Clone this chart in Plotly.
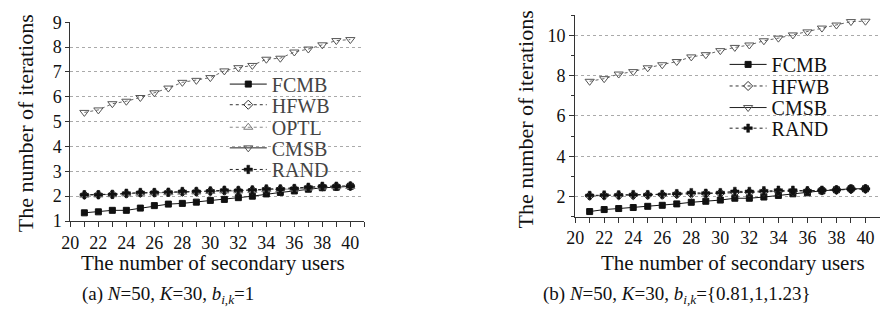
import plotly.graph_objects as go

x_users = list(range(21, 41))

# Panel (a): N=50, K=30, b=1
fcmb_a = [1.33, 1.37, 1.43, 1.43, 1.52, 1.62, 1.68, 1.71, 1.76, 1.83,
          1.87, 1.94, 2.00, 2.09, 2.15, 2.21, 2.28, 2.34, 2.36, 2.40]
hfwb_a = [2.05, 2.06, 2.07, 2.10, 2.13, 2.14, 2.15, 2.17, 2.18, 2.20,
          2.22, 2.22, 2.24, 2.27, 2.28, 2.30, 2.34, 2.38, 2.39, 2.40]
optl_a = [2.04, 2.05, 2.06, 2.09, 2.12, 2.13, 2.14, 2.16, 2.17, 2.19,
          2.21, 2.21, 2.23, 2.26, 2.27, 2.29, 2.33, 2.37, 2.38, 2.39]
cmsb_a = [5.37, 5.47, 5.72, 5.82, 5.97, 6.16, 6.35, 6.58, 6.66, 6.77,
          7.04, 7.17, 7.26, 7.51, 7.55, 7.80, 7.92, 8.09, 8.26, 8.30]
rand_a = [2.06, 2.06, 2.07, 2.12, 2.15, 2.15, 2.16, 2.19, 2.19, 2.21,
          2.24, 2.23, 2.25, 2.29, 2.29, 2.31, 2.36, 2.40, 2.40, 2.41]

# Panel (b): N=50, K=30, b={0.81,1,1.23}
fcmb_b = [1.26, 1.36, 1.41, 1.46, 1.52, 1.57, 1.64, 1.72, 1.77, 1.83,
          1.92, 1.92, 1.98, 2.06, 2.14, 2.19, 2.29, 2.34, 2.39, 2.39]
hfwb_b = [2.04, 2.05, 2.06, 2.07, 2.08, 2.09, 2.12, 2.14, 2.15, 2.17,
          2.20, 2.21, 2.24, 2.26, 2.27, 2.28, 2.30, 2.33, 2.36, 2.38]
cmsb_b = [7.72, 7.85, 8.08, 8.20, 8.39, 8.54, 8.70, 8.93, 9.04, 9.24,
          9.40, 9.52, 9.73, 9.86, 10.02, 10.17, 10.36, 10.51, 10.68, 10.70]
rand_b = [2.06, 2.08, 2.09, 2.10, 2.10, 2.11, 2.15, 2.20, 2.17, 2.20,
          2.26, 2.26, 2.29, 2.32, 2.32, 2.29, 2.32, 2.34, 2.39, 2.39]

x_ticks = [20, 22, 24, 26, 28, 30, 32, 34, 36, 38, 40]
y_ticks_a = [1, 2, 3, 4, 5, 6, 7, 8, 9]
y_ticks_b = [2, 4, 6, 8, 10]

FONT = "Liberation Serif, Times New Roman, serif"
W, H = 880, 322

styles = {
    "FCMB": dict(line=dict(color="#111", width=1, dash="solid"),
                 marker=dict(symbol="square", size=6, color="#111",
                             line=dict(color="#111", width=1)),
                 leg_dash="solid", leg_color="#111"),
    "HFWB": dict(line=dict(color="#333", width=1, dash="dot"),
                 marker=dict(symbol="diamond-open", size=7, color="#333",
                             line=dict(color="#333", width=1)),
                 leg_dash="dot", leg_color="#333"),
    "OPTL": dict(line=dict(color="#888", width=1, dash="dashdot"),
                 marker=dict(symbol="triangle-up-open", size=8, color="#777",
                             line=dict(color="#777", width=1)),
                 leg_dash="dot", leg_color="#888"),
    "CMSB": dict(line=dict(color="#666", width=1, dash="dot"),
                 marker=dict(symbol="triangle-down-open", size=8, color="#555",
                             line=dict(color="#555", width=1)),
                 leg_dash="solid", leg_color="#222"),
    "RAND": dict(line=dict(color="#222", width=1, dash="dot"),
                 marker=dict(symbol="cross", size=7, color="#111",
                             line=dict(color="#111", width=0.5)),
                 leg_dash="dot", leg_color="#222"),
}

fig = go.Figure()

panel_a = [("FCMB", fcmb_a), ("HFWB", hfwb_a), ("OPTL", optl_a),
           ("CMSB", cmsb_a), ("RAND", rand_a)]
panel_b = [("FCMB", fcmb_b), ("HFWB", hfwb_b), ("CMSB", cmsb_b),
           ("RAND", rand_b)]

for name, vals in panel_a:
    s = styles[name]
    fig.add_trace(go.Scatter(x=x_users, y=vals, mode="lines+markers",
                             line=s["line"], marker=s["marker"],
                             showlegend=False, xaxis="x", yaxis="y"))
for name, vals in panel_b:
    s = styles[name]
    fig.add_trace(go.Scatter(x=x_users, y=vals, mode="lines+markers",
                             line=s["line"], marker=s["marker"],
                             showlegend=False, xaxis="x2", yaxis="y2"))

# legend entries, each in its own legend box to control spacing
leg_a_y = [79, 101, 125, 147, 170]
leg_b_y = [58, 81, 104, 126]
legend_layout = {}
idx = 1


def legend_trace(name, key, xa, ya):
    s = styles[name]
    lw_line = dict(s["line"])
    lw_line["dash"] = s["leg_dash"]
    lw_line["color"] = s["leg_color"]
    return go.Scatter(x=[None], y=[None], mode="lines+markers", name=name,
                      line=lw_line, marker=s["marker"], legend=key,
                      xaxis=xa, yaxis=ya)


for (name, _), py in zip(panel_a, leg_a_y):
    key = "legend" if idx == 1 else f"legend{idx}"
    fig.add_trace(legend_trace(name, key, "x", "y"))
    legend_layout[key] = dict(x=218 / W, y=1 - py / H, xanchor="left", yanchor="middle",
                              bgcolor="rgba(0,0,0,0)", borderwidth=0, itemwidth=37,
                              font=dict(family=FONT, size=20, color="#444"),
                              itemclick=False)
    idx += 1
for (name, _), py in zip(panel_b, leg_b_y):
    key = f"legend{idx}"
    fig.add_trace(legend_trace(name, key, "x2", "y2"))
    legend_layout[key] = dict(x=723 / W, y=1 - py / H, xanchor="left", yanchor="middle",
                              bgcolor="rgba(0,0,0,0)", borderwidth=0, itemwidth=37,
                              font=dict(family=FONT, size=20, color="#111"),
                              itemclick=False)
    idx += 1

axis_common = dict(showline=True, linecolor="#333", linewidth=1, ticks="outside",
                   tickcolor="#333", zeroline=False,
                   tickfont=dict(family=FONT, size=18, color="#111"))

fig.update_layout(
    width=W, height=H, margin=dict(l=0, r=0, t=0, b=0),
    paper_bgcolor="white", plot_bgcolor="white",
    font=dict(family=FONT, color="#111"),
    showlegend=True,
    xaxis=dict(domain=[62 / W, 359 / W], range=[20, 41], tickvals=x_ticks,
               showgrid=False, ticklen=5,
               minor=dict(dtick=1, ticks="outside", ticklen=5, tickcolor="#333"),
               anchor="y", **axis_common),
    yaxis=dict(domain=[(H - 225) / H, (H - 13) / H], range=[1, 9], tickvals=y_ticks_a,
               showgrid=True, gridcolor="#aaa", griddash="dot", gridwidth=1,
               ticklen=4, anchor="x", **axis_common),
    xaxis2=dict(domain=[572 / W, 880 / W], range=[20, 41], tickvals=x_ticks,
                showgrid=False, ticklen=5,
                minor=dict(dtick=1, ticks="outside", ticklen=5, tickcolor="#333"),
                anchor="y2", **axis_common),
    yaxis2=dict(domain=[(H - 220.5) / H, (H - 5.5) / H], range=[1, 11], tickvals=y_ticks_b,
                showgrid=True, gridcolor="#aaa", griddash="dot", gridwidth=1,
                ticklen=5,
                minor=dict(dtick=1, ticks="outside", ticklen=3, tickcolor="#333",
                           showgrid=False),
                anchor="x2", **axis_common),
    **legend_layout,
)

annotations = [
    dict(text="The number of secondary users", x=71 / W, y=1 - 270 / H, size=21,
         xa="left"),
    dict(text="The number of secondary users", x=596 / W, y=1 - 270 / H, size=21,
         xa="left"),
    dict(text="(a) <i>N</i>=50, <i>K</i>=30, <i>b</i><sub><i>i</i>,<i>k</i></sub>=1",
         x=72 / W, y=1 - 304 / H, size=19, xa="left"),
    dict(text="(b) <i>N</i>=50, <i>K</i>=30, <i>b</i><sub><i>i</i>,<i>k</i></sub>={0.81,1,1.23}",
         x=537 / W, y=1 - 304 / H, size=19, xa="left"),
    dict(text="The number of iterations", x=17 / W, y=1 - 121 / H, angle=-90, size=22,
         xa="center"),
    dict(text="The number of iterations", x=522 / W, y=1 - 117 / H, angle=-90, size=22,
         xa="center"),
]
for a in annotations:
    f = dict(family=FONT, size=a["size"], color="#111")
    fig.add_annotation(text=a["text"], x=a["x"], y=a["y"], xref="paper", yref="paper",
                       xanchor=a["xa"], yanchor="middle", showarrow=False,
                       textangle=a.get("angle", 0), font=f)

fig.write_html("out.html")
